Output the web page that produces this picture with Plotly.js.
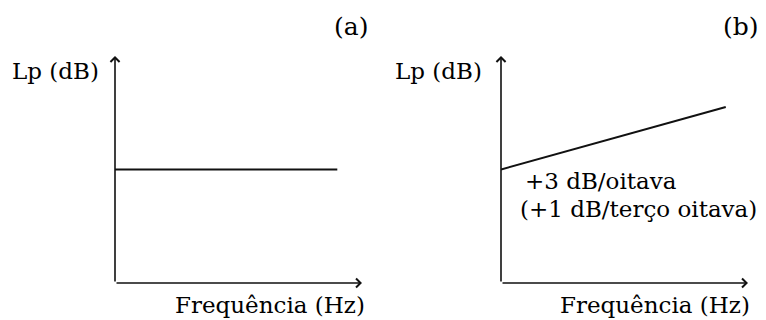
<!DOCTYPE html>
<html>
<head>
<meta charset="utf-8">
<script src="https://cdn.plot.ly/plotly-3.0.1.min.js"></script>
<style>
  html, body { margin: 0; padding: 0; background: #fff; }
  #chart { width: 766px; height: 320px; }
</style>
</head>
<body>
<div id="chart"></div>
<script>
// schematic data (arbitrary units: frequency along x, level along y)
const freqA = [0, 9];
const levelA = [5, 5];
const freqB = [0, 9.1];
const levelB = [5, 7.75];

const panelNames = ['(a)', '(b)'];
const yLabel = 'Lp (dB)';
const xLabel = 'Frequência (Hz)';
const slopeLines = ['+3 dB/oitava', '(+1 dB/terço oitava)'];

const W = 766, H = 320;
const ink = '#111';
// only serif face that resolves in this sandbox
const serif = 'DejaVu Serif';
const font = { family: serif, size: 23, color: '#000' };
const panelFont = { family: serif, size: 25, color: '#000' };

// helpers to turn pixel positions into paper fractions
const px = v => v / W;
const py = v => 1 - v / H;

function hiddenAxis(domain, anchor) {
    return {
        domain: domain, anchor: anchor, range: [0, 10],
        showgrid: false, zeroline: false, showticklabels: false,
        ticks: '', showline: false, fixedrange: true
    };
}

const traces = [
    { x: freqA, y: levelA, xaxis: 'x', yaxis: 'y', mode: 'lines',
      line: { color: ink, width: 2 }, hoverinfo: 'skip' },
    { x: freqB, y: levelB, xaxis: 'x2', yaxis: 'y2', mode: 'lines',
      line: { color: ink, width: 2 }, hoverinfo: 'skip' }
];

// axis arrows (drawn from the origin to the end of each axis)
function axisArrows(xr, yr) {
    const base = { xref: xr, yref: yr, axref: xr, ayref: yr, text: '', showarrow: true,
                   arrowhead: 4, arrowsize: 1.1, arrowwidth: 1.6, arrowcolor: ink };
    return [
        Object.assign({}, base, { x: 10, y: 0, ax: 0, ay: 0 }),
        Object.assign({}, base, { x: 0, y: 10, ax: 0, ay: 0 })
    ];
}

function label(text, x, y, xanchor, f) {
    return { xref: 'paper', yref: 'paper', x: px(x), y: py(y), xanchor: xanchor,
             yanchor: 'middle', text: text, showarrow: false, font: f || font, align: 'left' };
}

const annotations = [].concat(
    axisArrows('x', 'y'),
    axisArrows('x2', 'y2'),
    [
        label(panelNames[0], 351, 27, 'center', panelFont),
        label(panelNames[1], 741, 27, 'center', panelFont),
        label(yLabel, 101, 71, 'right'),
        label(yLabel, 484, 71, 'right'),
        label(xLabel, 367, 305, 'right'),
        label(xLabel, 752, 305, 'right'),
        label(slopeLines[0], 523, 181, 'left'),
        label(slopeLines[1], 518, 209, 'left')
    ]
);

const layout = {
    width: W, height: H,
    margin: { l: 0, r: 0, t: 0, b: 0 },
    font: { family: serif, size: 23, color: '#000' },
    paper_bgcolor: '#fff', plot_bgcolor: '#fff',
    showlegend: false,
    xaxis: hiddenAxis([px(115), px(362)], 'y'),
    yaxis: hiddenAxis([py(283), py(56)], 'x'),
    xaxis2: hiddenAxis([px(501), px(748)], 'y2'),
    yaxis2: hiddenAxis([py(283), py(56)], 'x2'),
    annotations: annotations
};

Plotly.newPlot('chart', traces, layout, { displayModeBar: false, staticPlot: true });
</script>
</body>
</html>
